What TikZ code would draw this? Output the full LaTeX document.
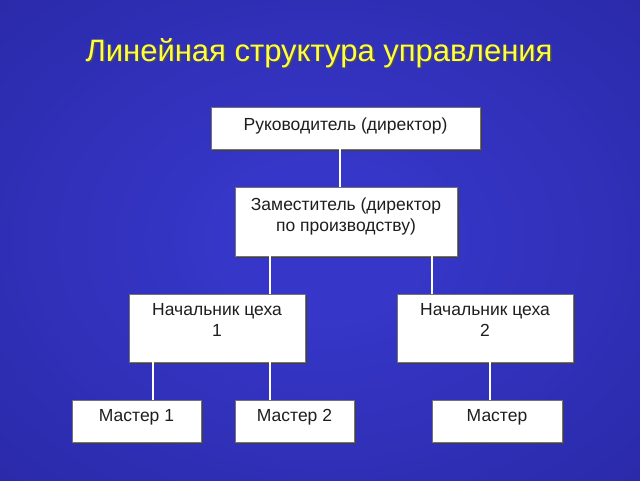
\documentclass[tikz,border=0pt]{standalone}
\usepackage{fontspec}
\setmainfont{Liberation Sans}
\definecolor{bgin}{RGB}{54,54,200}
\definecolor{bgout}{RGB}{26,26,130}
\definecolor{titley}{RGB}{255,255,64}
\definecolor{txt}{RGB}{30,30,30}
\pgfdeclareradialshading{bgshade}{\pgfpoint{0bp}{0bp}}{color(0bp)=(bgin); color(8bp)=(bgin); color(72bp)=(bgout)}
\begin{document}
\begin{tikzpicture}[x=1pt,y=-1pt,
  box/.style={fill=white, draw=black!55, line width=0.5pt, inner sep=0pt},
  lbl/.style={font=\fontsize{17.5}{21}\selectfont, text=txt, align=center, anchor=base, inner sep=0pt},
  conn/.style={draw=white, line width=2.5pt}]
\shade[shading=bgshade] (0,0) rectangle (640,480);
\useasboundingbox (0,0) rectangle (640,480);
% title
\node (tshadow) [font=\fontsize{31}{36}\selectfont, text=black!70, anchor=base, inner sep=0pt] at (320.5,62.5) {Линейная структура управления};
\node (title) [font=\fontsize{31}{36}\selectfont, text=titley, anchor=base, inner sep=0pt] at (319,61) {Линейная структура управления};
% shadows
\foreach \xa/\ya/\xb/\yb in {211/107/480/149, 235/187/457/256, 129/294/305/362, 397/294/573/362, 72/400/201/442, 235/400/354/442, 432/400/562/442}
  \fill[black!75] (\xa+1.5,\ya+1.5) rectangle (\xb+1.5,\yb+1.5);
% boxes
\node (b1) [box, minimum width=269pt, minimum height=42pt] at (345.5,128) {};
\node (b2) [box, minimum width=222pt, minimum height=69pt] at (346,221.5) {};
\node (b3) [box, minimum width=176pt, minimum height=68pt] at (217,328) {};
\node (b4) [box, minimum width=176pt, minimum height=68pt] at (485,328) {};
\node (b5) [box, minimum width=129pt, minimum height=42pt] at (136.5,421) {};
\node (b6) [box, minimum width=119pt, minimum height=42pt] at (294.5,421) {};
\node (b7) [box, minimum width=130pt, minimum height=42pt] at (497,421) {};
% labels
\node (t1) [lbl] at (345.5,130.5) {Руководитель (директор)};
\node (t2a) [lbl] at (346,210) {Заместитель (директор};
\node (t2b) [lbl] at (346,231) {по производству)};
\node (t3a) [lbl] at (217,315.5) {Начальник цеха};
\node (t3b) [lbl] at (217,336.5) {1};
\node (t4a) [lbl] at (485,315.5) {Начальник цеха};
\node (t4b) [lbl] at (485,336.5) {2};
\node (t5) [lbl] at (136.5,421) {Мастер 1};
\node (t6) [lbl] at (294.5,421) {Мастер 2};
\node (t7) [lbl] at (497,421) {Мастер};
% connector x positions
\coordinate (c1) at (340,0);
\coordinate (c2) at (270,0);
\coordinate (c3) at (432,0);
\coordinate (c4) at (153,0);
\coordinate (c5) at (270,0);
\coordinate (c6) at (490,0);
% connectors
\draw[conn] (b1.south -| c1) -- (b2.north -| c1);
\draw[conn] (b2.south -| c2) -- (b3.north -| c2);
\draw[conn] (b2.south -| c3) -- (b4.north -| c3);
\draw[conn] (b3.south -| c4) -- (b5.north -| c4);
\draw[conn] (b3.south -| c5) -- (b6.north -| c5);
\draw[conn] (b4.south -| c6) -- (b7.north -| c6);
\end{tikzpicture}
\end{document}
